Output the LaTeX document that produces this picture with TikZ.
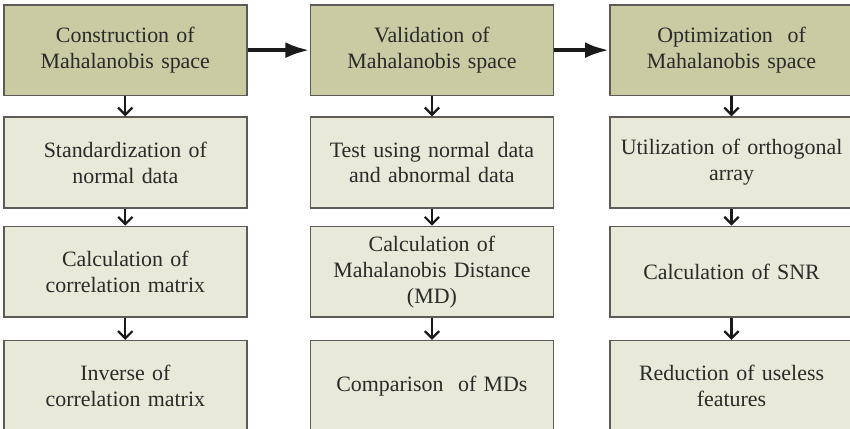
\documentclass[tikz,border=0pt]{standalone}
\usepackage{fontspec}
\setmainfont{Liberation Serif}
\usepackage{xcolor}
\definecolor{stageFill}{HTML}{C9CBA3}
\definecolor{stepFill}{HTML}{E8E9D9}
\definecolor{boxEdge}{HTML}{5E5A55}
\definecolor{arrowDark}{HTML}{1A1A1A}
\definecolor{textDark}{HTML}{2A2A2A}
\usepackage{tikz}
\usetikzlibrary{positioning,arrows.meta}
\tikzset{%
  stageBox/.style={%
    rectangle,
    draw=boxEdge,
    line width=1.2pt,
    fill=stageFill,
    text=textDark,
    minimum width=6.43cm,
    minimum height=2.4cm,
    text width=6.2cm,
    inner sep=0pt,
    align=center,
    font=\fontsize{16.5}{19.5}\selectfont
  },
  stepBox/.style={%
    stageBox,
    fill=stepFill
  },
  downArrow/.style={%
    -{Straight Barb[length=1.9mm,width=3.8mm]},
    line width=1.7pt,
    color=arrowDark
  },
  stageArrow/.style={%
    -{Latex[length=6.4mm,width=4.2mm]},
    line width=3.2pt,
    color=arrowDark
  }
}

\begin{document}
\begin{tikzpicture}
            \useasboundingbox (0,0) rectangle (22.49,-11.325);

            % construction column
            \node[stageBox, anchor=north west] (construct) at (0.08,-0.106) {Construction of\\Mahalanobis space};
            \node[stepBox, below=0.53cm of construct] (standard) {Standardization of\\normal data};
            \node[stepBox, below=0.45cm of standard] (corr) {Calculation of\\correlation matrix};
            \node[stepBox, below=0.58cm of corr] (inverse) {Inverse of\\correlation matrix};

            % validation column
            \node[stageBox, right=1.64cm of construct] (validate) {Validation of\\Mahalanobis space};
            \node[stepBox, below=0.53cm of validate] (test) {Test using normal data\\and abnormal data};
            \node[stepBox, below=0.45cm of test] (mdcalc) {Calculation of\\Mahalanobis Distance\\(MD)};
            \node[stepBox, below=0.58cm of mdcalc] (compare) {Comparison~ of MDs};

            % optimization column
            \node[stageBox, right=1.455cm of validate] (optimize) {Optimization~ of\\Mahalanobis space};
            \node[stepBox, below=0.53cm of optimize] (ortho) {Utilization of orthogonal\\array};
            \node[stepBox, below=0.45cm of ortho] (snr) {Calculation of SNR};
            \node[stepBox, below=0.58cm of snr] (reduce) {Reduction of useless\\features};

            \draw[stageArrow] (construct) -- (validate);
            \draw[stageArrow] (validate) -- (optimize);

            \draw[downArrow] (construct) -- (standard);
            \draw[downArrow] (standard) -- (corr);
            \draw[downArrow] (corr) -- (inverse);
            \draw[downArrow] (validate) -- (test);
            \draw[downArrow] (test) -- (mdcalc);
            \draw[downArrow] (mdcalc) -- (compare);
            \draw[downArrow] (optimize) -- (ortho);
            \draw[downArrow] (ortho) -- (snr);
            \draw[downArrow] (snr) -- (reduce);
        \end{tikzpicture}
\end{document}
